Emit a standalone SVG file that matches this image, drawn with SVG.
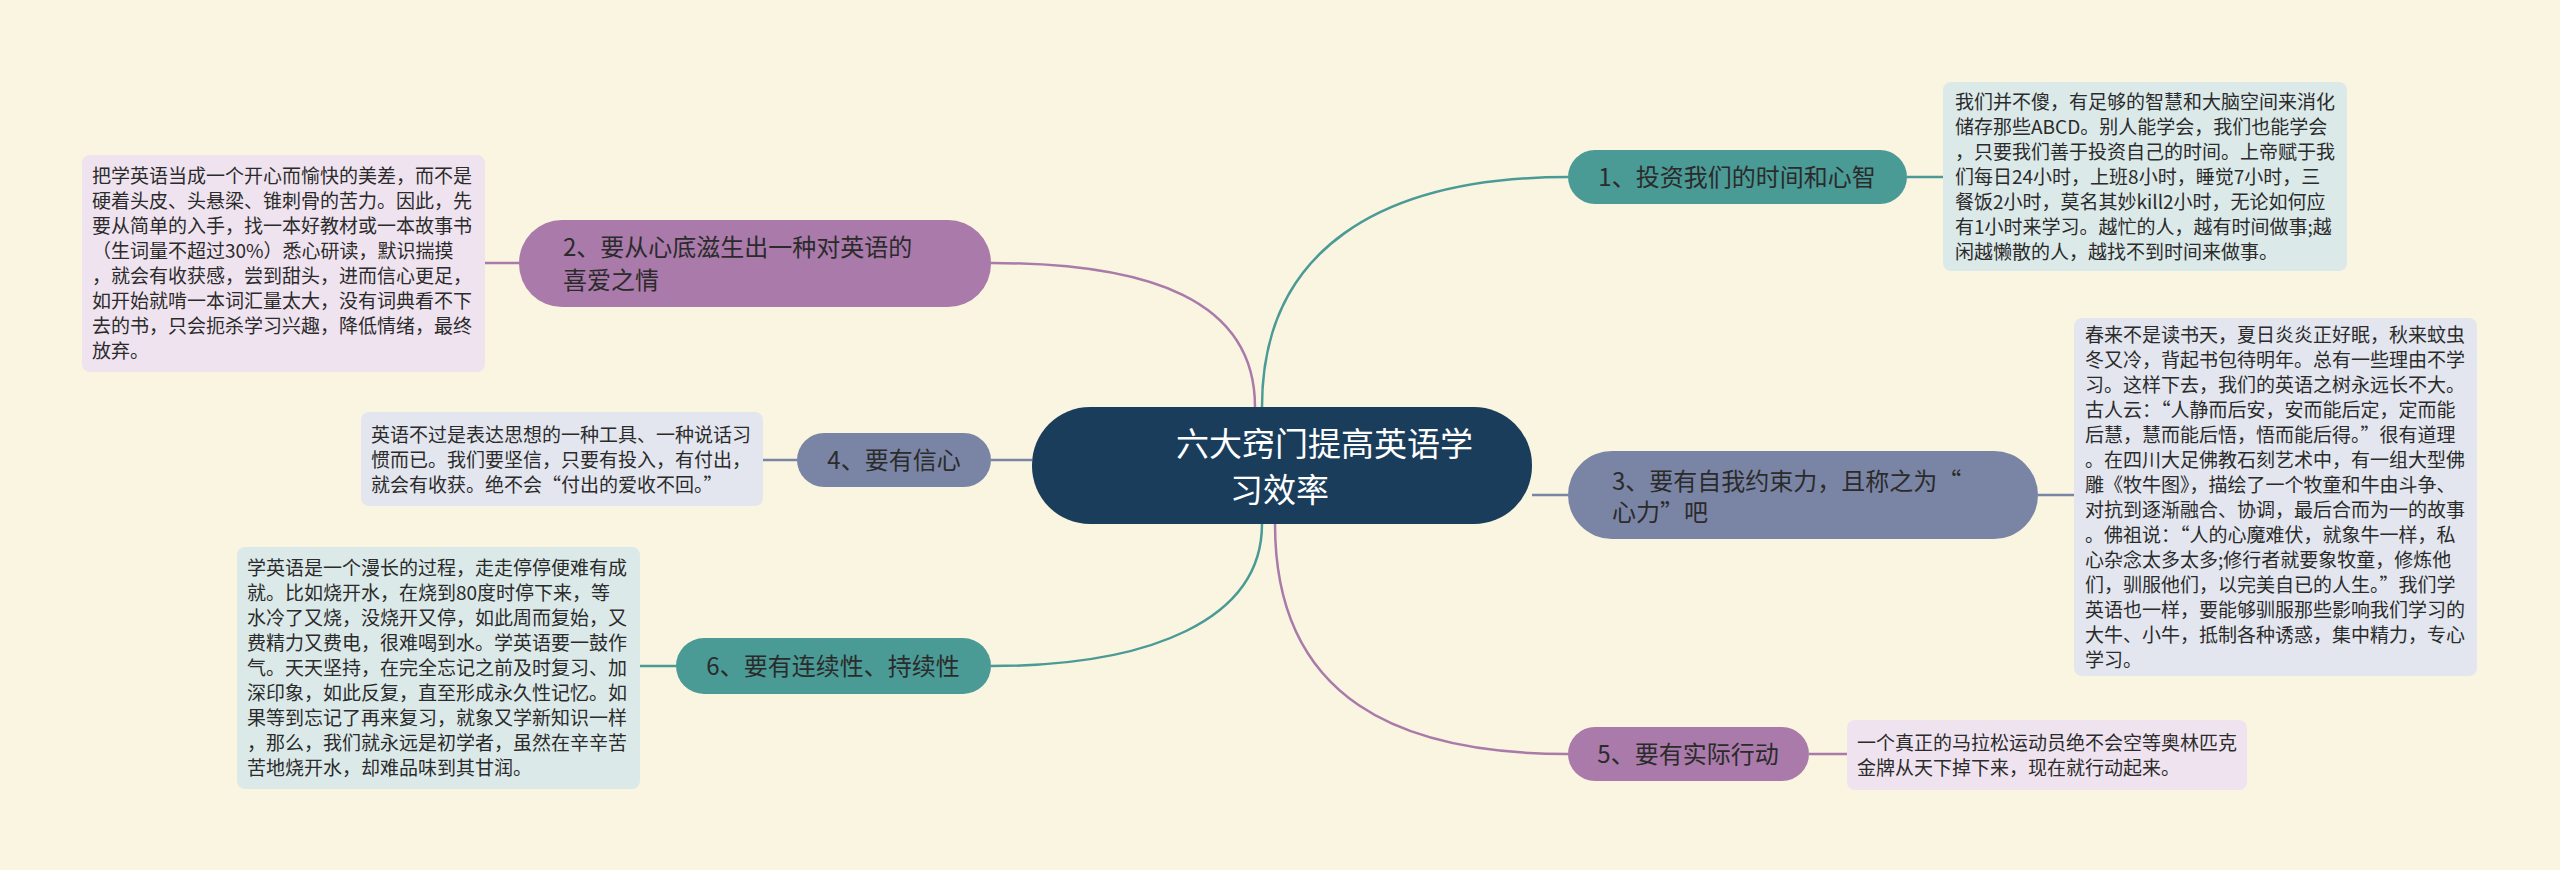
<svg xmlns="http://www.w3.org/2000/svg" width="2560" height="870" viewBox="0 0 2560 870">
<style>
text{font-family:"Noto Sans CJK SC","Noto Sans",sans-serif;fill:#2b2b2b}
.b{font-size:19px}
.n{font-size:24px}
.c{font-size:33px;fill:#ffffff}
.con{fill:none;stroke-width:2.5}
</style>
<rect width="2560" height="870" fill="#faf5e0"/>
<g id="connectors">
<path class="con" stroke="#4a9a96" d="M1262,407 C1262,250 1380,177 1568,177"/>
<path class="con" stroke="#a97aaa" d="M1255,407 C1255,300 1150,263 991,263"/>
<path class="con" stroke="#7a85a5" d="M1032,460 L991,460"/>
<path class="con" stroke="#7a85a5" d="M1532,495 L1568,495"/>
<path class="con" stroke="#a97aaa" d="M1275,524 C1275,700 1400,754 1568,754"/>
<path class="con" stroke="#4a9a96" d="M1262,524 C1262,620 1150,666 991,666"/>
<path class="con" stroke="#4a9a96" d="M1907,177 L1943,177"/>
<path class="con" stroke="#7a85a5" d="M2038,495 L2074,495"/>
<path class="con" stroke="#a97aaa" d="M1809,754 L1847,754"/>
<path class="con" stroke="#a97aaa" d="M519,263 L485,263"/>
<path class="con" stroke="#7a85a5" d="M797,460 L763,460"/>
<path class="con" stroke="#4a9a96" d="M676,666 L640,666"/>
</g>
<g id="center">
<rect x="1032" y="407" width="500" height="117" rx="58" fill="#1a3d5c"/>
<text class="c" x="1176" y="456">六大窍门提高英语学</text>
<text class="c" x="1230" y="502">习效率</text>
</g>
<g id="n1">
<rect x="1568" y="150" width="339" height="54" rx="27" fill="#4a9a96"/>
<text class="n" x="1737" y="186" text-anchor="middle">1、投资我们的时间和心智</text>
</g>
<g id="t1">
<rect x="1943" y="82" width="404" height="189" rx="8" fill="#dce9e9"/>
<text class="b" x="1955" y="109">我们并不傻，有足够的智慧和大脑空间来消化</text>
<text class="b" x="1955" y="134">储存那些ABCD。别人能学会，我们也能学会</text>
<text class="b" x="1955" y="159">，只要我们善于投资自己的时间。上帝赋于我</text>
<text class="b" x="1955" y="184">们每日24小时，上班8小时，睡觉7小时，三</text>
<text class="b" x="1955" y="209">餐饭2小时，莫名其妙kill2小时，无论如何应</text>
<text class="b" x="1955" y="234">有1小时来学习。越忙的人，越有时间做事;越</text>
<text class="b" x="1955" y="259">闲越懒散的人，越找不到时间来做事。</text>
</g>
<g id="n3">
<rect x="1568" y="451" width="470" height="88" rx="44" fill="#7a85a5"/>
<text class="n" x="1612" y="490">3、要有自我约束力，且称之为“</text>
<text class="n" x="1612" y="521">心力”吧</text>
</g>
<g id="t3">
<rect x="2074" y="318" width="403" height="358" rx="8" fill="#e3e6ee"/>
<text class="b" x="2085" y="342">春来不是读书天，夏日炎炎正好眠，秋来蚊虫</text>
<text class="b" x="2085" y="367">冬又冷，背起书包待明年。总有一些理由不学</text>
<text class="b" x="2085" y="392">习。这样下去，我们的英语之树永远长不大。</text>
<text class="b" x="2085" y="417">古人云：“人静而后安，安而能后定，定而能</text>
<text class="b" x="2085" y="442">后慧，慧而能后悟，悟而能后得。”很有道理</text>
<text class="b" x="2085" y="467">。在四川大足佛教石刻艺术中，有一组大型佛</text>
<text class="b" x="2085" y="492">雕《牧牛图》，描绘了一个牧童和牛由斗争、</text>
<text class="b" x="2085" y="517">对抗到逐渐融合、协调，最后合而为一的故事</text>
<text class="b" x="2085" y="542">。佛祖说：“人的心魔难伏，就象牛一样，私</text>
<text class="b" x="2085" y="567">心杂念太多太多;修行者就要象牧童，修炼他</text>
<text class="b" x="2085" y="592">们，驯服他们，以完美自已的人生。”我们学</text>
<text class="b" x="2085" y="617">英语也一样，要能够驯服那些影响我们学习的</text>
<text class="b" x="2085" y="642">大牛、小牛，抵制各种诱惑，集中精力，专心</text>
<text class="b" x="2085" y="667">学习。</text>
</g>
<g id="n5">
<rect x="1568" y="727" width="241" height="54" rx="27" fill="#a97aaa"/>
<text class="n" x="1688" y="763" text-anchor="middle">5、要有实际行动</text>
</g>
<g id="t5">
<rect x="1847" y="720" width="400" height="70" rx="8" fill="#efe3ef"/>
<text class="b" x="1857" y="750">一个真正的马拉松运动员绝不会空等奥林匹克</text>
<text class="b" x="1857" y="775">金牌从天下掉下来，现在就行动起来。</text>
</g>
<g id="n2">
<rect x="519" y="220" width="472" height="87" rx="43" fill="#a97aaa"/>
<text class="n" x="563" y="256">2、要从心底滋生出一种对英语的</text>
<text class="n" x="563" y="289">喜爱之情</text>
</g>
<g id="t2">
<rect x="82" y="155" width="403" height="217" rx="8" fill="#efe3ef"/>
<text class="b" x="92" y="183">把学英语当成一个开心而愉快的美差，而不是</text>
<text class="b" x="92" y="208">硬着头皮、头悬梁、锥刺骨的苦力。因此，先</text>
<text class="b" x="92" y="233">要从简单的入手，找一本好教材或一本故事书</text>
<text class="b" x="92" y="258">（生词量不超过30%）悉心研读，默识揣摸</text>
<text class="b" x="92" y="283">，就会有收获感，尝到甜头，进而信心更足，</text>
<text class="b" x="92" y="308">如开始就啃一本词汇量太大，没有词典看不下</text>
<text class="b" x="92" y="333">去的书，只会扼杀学习兴趣，降低情绪，最终</text>
<text class="b" x="92" y="358">放弃。</text>
</g>
<g id="n4">
<rect x="797" y="433" width="194" height="54" rx="27" fill="#7a85a5"/>
<text class="n" x="894" y="469" text-anchor="middle">4、要有信心</text>
</g>
<g id="t4">
<rect x="361" y="412" width="402" height="94" rx="8" fill="#e3e6ee"/>
<text class="b" x="371" y="442">英语不过是表达思想的一种工具、一种说话习</text>
<text class="b" x="371" y="467">惯而已。我们要坚信，只要有投入，有付出，</text>
<text class="b" x="371" y="492">就会有收获。绝不会“付出的爱收不回。”</text>
</g>
<g id="n6">
<rect x="676" y="638" width="315" height="56" rx="28" fill="#4a9a96"/>
<text class="n" x="833" y="675" text-anchor="middle">6、要有连续性、持续性</text>
</g>
<g id="t6">
<rect x="237" y="547" width="403" height="242" rx="8" fill="#dce9e9"/>
<text class="b" x="247" y="575">学英语是一个漫长的过程，走走停停便难有成</text>
<text class="b" x="247" y="600">就。比如烧开水，在烧到80度时停下来，等</text>
<text class="b" x="247" y="625">水冷了又烧，没烧开又停，如此周而复始，又</text>
<text class="b" x="247" y="650">费精力又费电，很难喝到水。学英语要一鼓作</text>
<text class="b" x="247" y="675">气。天天坚持，在完全忘记之前及时复习、加</text>
<text class="b" x="247" y="700">深印象，如此反复，直至形成永久性记忆。如</text>
<text class="b" x="247" y="725">果等到忘记了再来复习，就象又学新知识一样</text>
<text class="b" x="247" y="750">，那么，我们就永远是初学者，虽然在辛辛苦</text>
<text class="b" x="247" y="775">苦地烧开水，却难品味到其甘润。</text>
</g>
</svg>
